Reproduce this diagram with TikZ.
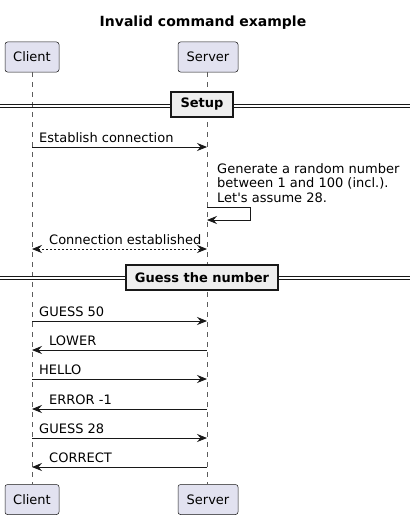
\documentclass[tikz,border=0pt]{standalone}
\usepackage{fontspec}
\setmainfont{DejaVu Sans}[Ligatures=TeXOff]
\usetikzlibrary{arrows.meta}
\definecolor{partfill}{HTML}{E2E2F0}
\definecolor{divfill}{HTML}{EEEEEE}
\definecolor{lineclr}{HTML}{181818}
\begin{document}
\begin{tikzpicture}[x=1pt,y=-1pt,
  participant/.style={draw=lineclr, fill=partfill, rounded corners=2.5pt, line width=0.5pt,
    minimum height=30pt, inner sep=0pt, font=\fontsize{13}{15}\selectfont},
  lifeline/.style={draw=lineclr!70, line width=0.5pt, dash pattern=on 5pt off 5pt},
  msg/.style={draw=lineclr, line width=0.8pt, -{Stealth[length=10pt,width=8pt,inset=3.5pt]}},
  dmsg/.style={draw=lineclr, line width=0.8pt, dash pattern=on 2pt off 2pt,
    {Stealth[length=10pt,width=8pt,inset=3.5pt]}-{Stealth[length=10pt,width=8pt,inset=3.5pt]}},
  msgtext/.style={anchor=base west, inner sep=0pt, font=\fontsize{13}{15}\selectfont},
  divline/.style={draw=lineclr, line width=0.9pt},
  divbox/.style={draw=lineclr, fill=divfill, line width=1.6pt, minimum height=25pt,
    inner xsep=7pt, inner ysep=0pt, font=\bfseries\fontsize{13}{15}\selectfont},
  titletext/.style={font=\bfseries\fontsize{14}{16}\selectfont, inner sep=0pt, anchor=base}
]
\useasboundingbox (0,0) rectangle (410,519);
\fill[white] (0,0) rectangle (410,519);

\node[titletext] (title) at (203,27) {Invalid command example};

\node[participant, minimum width=54pt] (ct) at (32,57) {Client};
\node[participant, minimum width=60pt] (st) at (208,57) {Server};
\node[participant, minimum width=54pt] (cb) at (32,499.5) {Client};
\node[participant, minimum width=60pt] (sb) at (208,499.5) {Server};

\coordinate (cl) at (32,0);
\coordinate (sl) at (207,0);

\draw[lifeline] (ct.south -| cl) -- (cb.north -| cl);
\draw[lifeline] (st.south -| sl) -- (sb.north -| sl);

% Setup divider
\draw[divline] (0,104.3) -- (410,104.3);
\draw[divline] (0,107.7) -- (410,107.7);
\node[divbox, minimum width=62pt] (setup) at (202,104.5) {Setup};

\draw[msg] (cl |- 0,147) -- (sl |- 0,147);
\node[msgtext] (m1) at (39,142.5) {Establish connection};

\node[msgtext] (n1) at (217,173) {Generate a random number};
\node[msgtext] (n2) at (217,187.5) {between 1 and 100 (incl.).};
\node[msgtext] (n3) at (217,202) {Let's assume 28.};
\coordinate (self) at (250.5,207.5);
\draw[msg] (sl |- self) -- (self) -- (250.5,220) -- (sl |- 0,220);

\draw[dmsg] (cl |- 0,249) -- (sl |- 0,249);
\node[msgtext] (m2) at (49,244) {Connection established};

% Guess divider
\draw[divline] (0,276) -- (410,276);
\draw[divline] (0,279.5) -- (410,279.5);
\node[divbox, minimum width=152pt] (guess) at (202,277.5) {Guess the number};

\draw[msg] (cl |- 0,321) -- (sl |- 0,321);
\node[msgtext] (g1) at (39,316.5) {GUESS 50};
\draw[msg] (sl |- 0,350) -- (cl |- 0,350);
\node[msgtext] (g2) at (49,345.5) {LOWER};
\draw[msg] (cl |- 0,379) -- (sl |- 0,379);
\node[msgtext] (g3) at (39,374.5) {HELLO};
\draw[msg] (sl |- 0,409) -- (cl |- 0,409);
\node[msgtext] (g4) at (49,404.5) {ERROR -1};
\draw[msg] (cl |- 0,438) -- (sl |- 0,438);
\node[msgtext] (g5) at (39,433.5) {GUESS 28};
\draw[msg] (sl |- 0,467) -- (cl |- 0,467);
\node[msgtext] (g6) at (49,462.5) {CORRECT};
\end{tikzpicture}
\end{document}
